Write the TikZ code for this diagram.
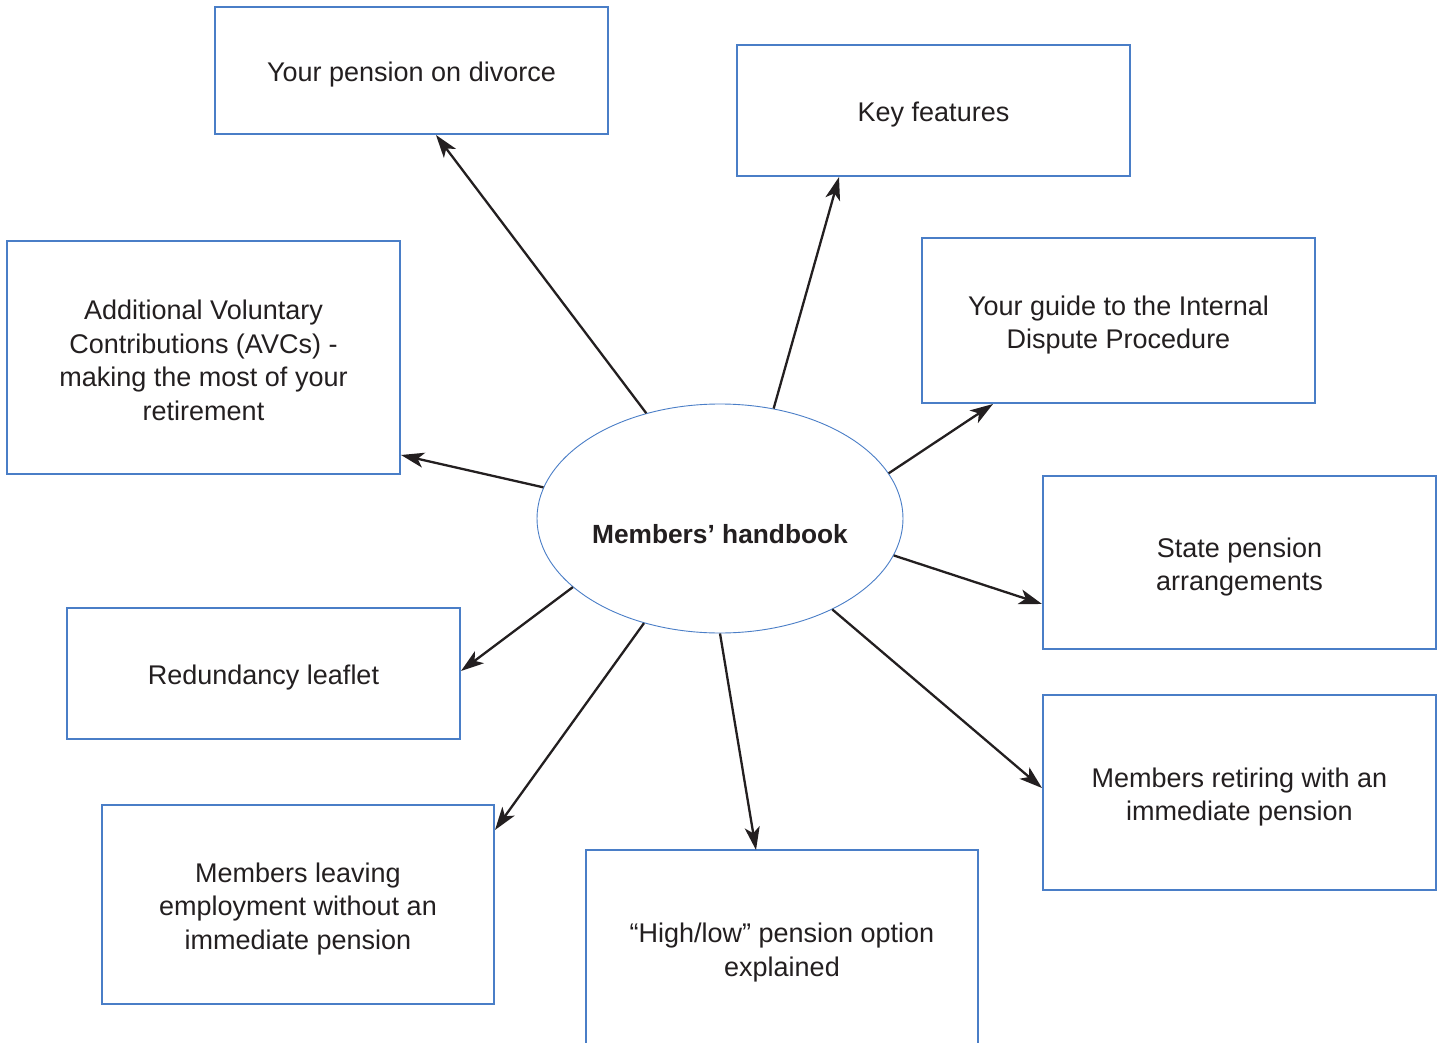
\documentclass[tikz,border=0pt]{standalone}
\usepackage{fontspec}
\setmainfont{Liberation Sans}
\usetikzlibrary{shapes.geometric,arrows.meta}
\definecolor{boxblue}{HTML}{4A7EC7}
\definecolor{ink}{HTML}{231F20}
\begin{document}
\begin{tikzpicture}[x=1pt,y=-1pt,
  box/.style={draw=boxblue, line width=1.3pt, rectangle, inner sep=0pt},
  boxtext/.style={align=center, text=ink, inner sep=0pt, yshift=-4.5pt,
    font=\fontsize{27}{33.5}\selectfont},
  arr/.style={draw=ink, line width=2.3pt,
    -{Stealth[length=23pt,width=15pt,inset=6pt]}}]
\useasboundingbox (0,0) rectangle (1443,1043);
\fill[white] (0,0) rectangle (1443,1043);
\clip (0,0) rectangle (1443,1043);

% central topic
\node[ellipse, draw=boxblue, line width=0.9pt, minimum width=366pt,
  minimum height=229pt, inner sep=0pt] (hub) at (720,518.5) {};
\node[text=ink, font=\bfseries\fontsize{26.3}{30}\selectfont] (hubtext)
  at (720,534) {Members’ handbook};

% leaflets
\node[box, minimum width=393pt, minimum height=127pt,
  label={[boxtext]center:Your pension on divorce}] (divorce) at (411.5,70.5) {};
\node[box, minimum width=393pt, minimum height=131pt,
  label={[boxtext]center:Key features}] (keyf) at (933.5,110.5) {};
\node[box, minimum width=393pt, minimum height=165pt,
  label={[boxtext]center:Your guide to the Internal\\Dispute Procedure}]
  (idp) at (1118.5,320.5) {};
\node[box, minimum width=393pt, minimum height=233pt,
  label={[boxtext, yshift=1.5pt]center:Additional Voluntary\\Contributions (AVCs) -\\making the most of your\\retirement}]
  (avc) at (203.5,357.5) {};
\node[box, minimum width=393pt, minimum height=173pt,
  label={[boxtext]center:State pension\\arrangements}] (state) at (1239.5,562.5) {};
\node[box, minimum width=393pt, minimum height=131pt,
  label={[boxtext]center:Redundancy leaflet}] (redund) at (263.5,673.5) {};
\node[box, minimum width=393pt, minimum height=195pt,
  label={[boxtext]center:Members retiring with an\\immediate pension}]
  (retire) at (1239.5,792.5) {};
\node[box, minimum width=392pt, minimum height=199pt,
  label={[boxtext]center:Members leaving\\employment without an\\immediate pension}]
  (leave) at (298,904.5) {};
\node[box, minimum width=392pt, minimum height=200pt,
  label={[boxtext, yshift=2pt]center:“High/low” pension option\\explained}]
  (highlow) at (782,950) {};

% arrow tips on the leaflet borders
\coordinate (t1) at (436,135);
\coordinate (t2) at (839,177);
\coordinate (t3) at (993,404);
\coordinate (t4) at (401,455);
\coordinate (t5) at (1042,604);
\coordinate (t6) at (461,671);
\coordinate (t7) at (1042,788);
\coordinate (t8) at (495,830);
\coordinate (t9) at (756,850);

\draw[arr] (hub.125.9) -- (t1);
\draw[arr] (hub.64.8) -- (t2);
\draw[arr] (hub.15.5) -- (t3);
\draw[arr] (hub.170.5) -- (t4);
\draw[arr] (hub.-12.2) -- (t5);
\draw[arr] (hub.-155) -- (t6);
\draw[arr] (hub.-39.8) -- (t7);
\draw[arr] (hub.-126.1) -- (t8);
\draw[arr] (hub.-90.5) -- (t9);
\end{tikzpicture}
\end{document}
